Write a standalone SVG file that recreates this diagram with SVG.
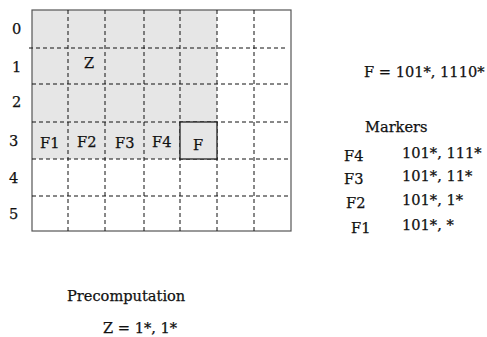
<svg xmlns="http://www.w3.org/2000/svg" width="487" height="337" viewBox="0 0 487 337">
<style>
text{font-family:"DejaVu Serif","Liberation Serif",serif;font-size:14.6px;fill:#111;stroke:#111;stroke-width:0.25}
.d{stroke:#111;stroke-width:1;stroke-dasharray:4 3;fill:none}
</style>
<rect x="0" y="0" width="487" height="337" fill="#fff"/>
<g id="grid">
<rect x="32" y="10" width="185" height="149" fill="#e6e6e6"/>
<rect x="32" y="10" width="259" height="221" fill="none" stroke="#555" stroke-width="1.2"/>
</g>
<g id="connectors">
<line class="d" x1="68" y1="10" x2="68" y2="231"/>
<line class="d" x1="105" y1="10" x2="105" y2="231"/>
<line class="d" x1="144" y1="10" x2="144" y2="231"/>
<line class="d" x1="180" y1="10" x2="180" y2="231"/>
<line class="d" x1="217" y1="10" x2="217" y2="231"/>
<line class="d" x1="254" y1="10" x2="254" y2="231"/>
<line class="d" x1="29" y1="48" x2="285" y2="48"/>
<line class="d" x1="32" y1="84" x2="289" y2="84"/>
<line class="d" x1="32" y1="122" x2="291" y2="122"/>
<line class="d" x1="32" y1="159" x2="289" y2="159"/>
<line class="d" x1="32" y1="196" x2="289" y2="196"/>
</g>
<g id="F">
<rect x="180" y="122" width="37" height="37" fill="#e6e6e6" stroke="#111" stroke-width="1.2"/>
<text x="193" y="150">F</text>
</g>
<g id="rows">
<text x="12" y="34">0</text>
<text x="12" y="72">1</text>
<text x="12" y="107">2</text>
<text x="9" y="146">3</text>
<text x="9" y="183">4</text>
<text x="9" y="219">5</text>
</g>
<g id="cells">
<text x="84" y="68">Z</text>
<text x="40" y="148">F1</text>
<text x="77" y="147">F2</text>
<text x="115" y="148">F3</text>
<text x="152" y="147">F4</text>
</g>
<g id="legend">
<text x="364" y="77">F = 101*, 1110*</text>
<text x="365" y="132">Markers</text>
<text x="344" y="161">F4</text>
<text x="402" y="158">101*, 111*</text>
<text x="344" y="184">F3</text>
<text x="402" y="181">101*, 11*</text>
<text x="346" y="208">F2</text>
<text x="402" y="205">101*, 1*</text>
<text x="351" y="233">F1</text>
<text x="402" y="230">101*, *</text>
</g>
<g id="precomp">
<text x="67" y="301">Precomputation</text>
<text x="103" y="333">Z = 1*, 1*</text>
</g>
</svg>
